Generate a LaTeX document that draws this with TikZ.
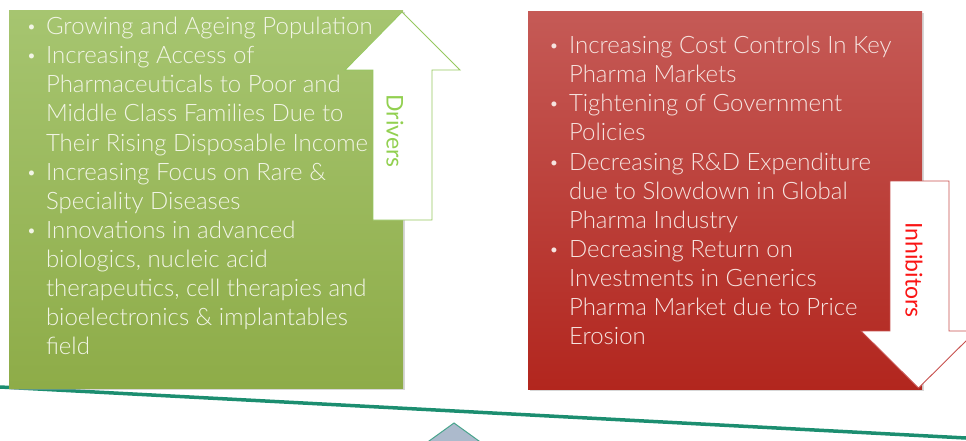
\documentclass[tikz,border=0pt]{standalone}
\usepackage{fontspec}
\setmainfont{Lato Light}
\newfontfamily\labelfont{Lato}
\definecolor{gtop}{RGB}{166,197,112}
\definecolor{gbot}{RGB}{142,172,72}
\definecolor{rtop}{RGB}{197,90,86}
\definecolor{rbot}{RGB}{178,38,30}
\definecolor{gtxt}{RGB}{242,245,230}
\definecolor{rtxt}{RGB}{246,228,224}
\definecolor{garrow}{RGB}{150,200,95}
\definecolor{rarrow}{RGB}{200,80,78}
\definecolor{drvtxt}{RGB}{146,208,80}
\definecolor{inhtxt}{RGB}{250,20,20}
\definecolor{beam}{RGB}{28,142,112}
\definecolor{pivot}{RGB}{172,186,204}
\begin{document}
\begin{tikzpicture}[x=1pt,y=-1pt,
  every node/.style={inner sep=0pt,outer sep=0pt},
  txtline/.style={anchor=base west,font=\fontsize{24}{29}\selectfont},
  bulletmark/.style={anchor=base,font=\fontsize{17}{20}\selectfont},
  boxshadow/.style={fill=black!35,opacity=0.45},
  sidelabel/.style={rotate=-90,font=\labelfont\fontsize{23}{26}\selectfont}
]
\useasboundingbox (0,0) rectangle (966,441);
\clip (0,0) rectangle (966,441);

% balance beam and pivot
\filldraw[fill=pivot,draw=beam!80,line width=1pt]
  (454,423) -- (533,480) -- (375,480) -- cycle;
\coordinate (beamL) at (0,387);
\coordinate (beamR) at (966,438);
\draw[beam,line width=3.5pt] (beamL) -- (beamR);

% drivers box
\fill[boxshadow] (10.5,12.5) rectangle (404.5,389.5);
\shade[top color=gtop,bottom color=gbot] (9,11) rectangle (403,388);

% inhibitors box
\fill[boxshadow] (529.5,13.5) rectangle (923.5,390.5);
\shade[top color=rtop,bottom color=rbot] (528,12) rectangle (922,389);

% driver bullets
\foreach \t [count=\i] in {
  Growing and Ageing Population,
  Increasing Access of,
  Pharmaceuticals to Poor and,
  Middle Class Families Due to,
  Their Rising Disposable Income,
  Increasing Focus on Rare \&,
  Speciality Diseases,
  Innovations in advanced,
  {biologics, nucleic acid},
  {therapeutics, cell therapies and},
  bioelectronics \& implantables,
  field}
  \node[txtline,text=gtxt] (g\i) at (46,{35+29*(\i-1)}) {\t};
\foreach \i in {1,2,6,8}
  \node[bulletmark,text=gtxt] (gb\i) at (31.5,{33+29*(\i-1)}) {\textbullet};

% inhibitor bullets
\foreach \t [count=\i] in {
  Increasing Cost Controls In Key,
  Pharma Markets,
  Tightening of Government,
  Policies,
  Decreasing R\&D Expenditure,
  due to Slowdown in Global,
  Pharma Industry,
  Decreasing Return on,
  Investments in Generics,
  Pharma Market due to Price,
  Erosion}
  \node[txtline,text=rtxt] (r\i) at (569,{54+29*(\i-1)}) {\t};
\foreach \i in {1,3,5,8}
  \node[bulletmark,text=rtxt] (rb\i) at (554,{52+29*(\i-1)}) {\textbullet};

% up arrow
\filldraw[fill=white,draw=garrow,line width=0.9pt,line join=miter]
  (402,12) -- (460,70) -- (432,70) -- (432,220) -- (373,220)
  -- (373,70) -- (345,70) -- cycle;
\node[sidelabel,text=drvtxt] (drivers) at (395,131) {Drivers};

% down arrow
\filldraw[fill=white,draw=rarrow,line width=0.9pt,line join=miter]
  (890,181) -- (949,181) -- (949,331) -- (976,331) -- (918.5,388)
  -- (861,331) -- (890,331) -- cycle;
\node[sidelabel,text=inhtxt] (inhibitors) at (914,270) {Inhibitors};
\end{tikzpicture}
\end{document}
